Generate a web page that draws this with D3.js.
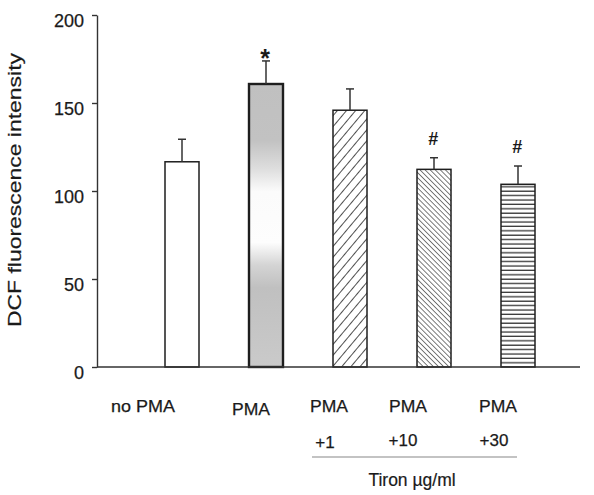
<!DOCTYPE html>
<html>
<head>
<meta charset="utf-8">
<script src="https://cdn.jsdelivr.net/npm/d3@7"></script>
<style>
  html, body { margin: 0; padding: 0; background: #fff; }
  svg { display: block; font-family: "Liberation Sans", Arial, Helvetica, sans-serif; }
</style>
</head>
<body>
<svg id="chart" width="594" height="495"></svg>
<script>
// ---- data ----
const categories = ["no PMA", "PMA", "PMA+1", "PMA+10", "PMA+30"];
const labelLine1 = ["no PMA", "PMA", "PMA", "PMA", "PMA"];
const labelLine2 = ["", "", "+1", "+10", "+30"];
const values = [116.6, 160.8, 145.9, 112.3, 103.8];
const errors = [12.8, 13.1, 12.1, 6.6, 10.4];
const marks = ["", "*", "", "#", "#"];
const yTicks = [0, 50, 100, 150, 200];
const yTitle = "DCF fluorescence intensity";
const groupTitle = "Tiron \u00b5g/ml";

// ---- layout ----
const svg = d3.select("#chart");
const axisX = 97;
const y = d3.scaleLinear().domain([0, 200]).range([367, 15]);
const x = d3.scalePoint().domain(categories).range([182, 518]);
const barW = 34;
const ink = "#1a1a1a";

// ---- patterns / gradient ----
const defs = svg.append("defs");
const grad = defs.append("linearGradient").attr("id", "pmaGrad")
  .attr("x1", 0).attr("y1", 0).attr("x2", 0).attr("y2", 1);
[[0, "#c0c0c0"], [0.2, "#c2c2c2"], [0.3, "#dedede"], [0.38, "#fbfbfb"],
 [0.56, "#fdfdfd"], [0.64, "#d4d4d4"], [0.72, "#c0c0c0"], [1, "#cacaca"]]
  .forEach(([o, c]) => grad.append("stop").attr("offset", o).attr("stop-color", c));

const p1 = defs.append("pattern").attr("id", "hatch1").attr("patternUnits", "userSpaceOnUse")
  .attr("width", 7).attr("height", 7).attr("patternTransform", "rotate(40)");
p1.append("rect").attr("width", 7).attr("height", 7).attr("fill", "#fff");
p1.append("line").attr("x1", 0).attr("y1", 0).attr("x2", 0).attr("y2", 7)
  .attr("stroke", "#222").attr("stroke-width", 1.6);

const p2 = defs.append("pattern").attr("id", "hatch2").attr("patternUnits", "userSpaceOnUse")
  .attr("width", 3.6).attr("height", 3.6).attr("patternTransform", "rotate(-45)");
p2.append("rect").attr("width", 3.6).attr("height", 3.6).attr("fill", "#fff");
p2.append("line").attr("x1", 0).attr("y1", 0).attr("x2", 0).attr("y2", 3.6)
  .attr("stroke", "#222").attr("stroke-width", 1.2);

const p3 = defs.append("pattern").attr("id", "hatch3").attr("patternUnits", "userSpaceOnUse")
  .attr("width", 8).attr("height", 4.4);
p3.append("rect").attr("width", 8).attr("height", 4.4).attr("fill", "#fff");
p3.append("line").attr("x1", 0).attr("y1", 2).attr("x2", 8).attr("y2", 2)
  .attr("stroke", "#333").attr("stroke-width", 1.3);

const fills = ["#ffffff", "url(#pmaGrad)", "url(#hatch1)", "url(#hatch2)", "url(#hatch3)"];
const strokeW = [1.5, 2.4, 1.5, 1.5, 1.5];

// ---- y axis ----
const yAxis = d3.axisLeft(y).tickValues(yTicks).tickSize(5).tickPadding(8).tickSizeOuter(0);
const gy = svg.append("g").attr("transform", `translate(${axisX},0)`).call(yAxis);
gy.select(".domain").attr("stroke", "#333").attr("stroke-width", 1.4);
gy.selectAll(".tick line").attr("stroke", "#333").attr("stroke-width", 1.4);
gy.selectAll(".tick text").attr("font-size", 18).attr("fill", ink)
  .attr("font-family", "'Liberation Sans', Arial, sans-serif")
  .attr("stroke", ink).attr("stroke-width", 0.25)
  .attr("dy", "0.62em");

// y title
svg.append("text")
  .attr("transform", `translate(21,190) rotate(-90)`)
  .attr("text-anchor", "middle")
  .attr("font-size", 19)
  .attr("fill", ink).attr("stroke", ink).attr("stroke-width", 0.2)
  .attr("textLength", 274).attr("lengthAdjust", "spacingAndGlyphs")
  .text(yTitle);

// ---- bars ----
const bars = svg.append("g");
bars.selectAll("rect").data(categories).join("rect")
  .attr("x", d => x(d) - barW / 2)
  .attr("y", (d, i) => y(values[i]))
  .attr("width", barW)
  .attr("height", (d, i) => y(0) - y(values[i]))
  .attr("fill", (d, i) => fills[i])
  .attr("stroke", "#1e1e1e")
  .attr("stroke-width", (d, i) => strokeW[i]);

// error bars
const eb = svg.append("g").attr("stroke", "#333").attr("stroke-width", 1.5);
categories.forEach((c, i) => {
  eb.append("line").attr("x1", x(c)).attr("x2", x(c))
    .attr("y1", y(values[i])).attr("y2", y(values[i] + errors[i]));
  eb.append("line").attr("x1", x(c) - 4).attr("x2", x(c) + 4)
    .attr("y1", y(values[i] + errors[i])).attr("y2", y(values[i] + errors[i]));
});

// significance marks
categories.forEach((c, i) => {
  if (!marks[i]) return;
  const top = y(values[i] + errors[i]);
  if (marks[i] === "*") {
    svg.append("text").attr("x", x(c) - 1).attr("y", top + 6)
      .attr("text-anchor", "middle").attr("font-size", 25).attr("font-weight", "bold")
      .attr("fill", ink).text("*");
  } else {
    svg.append("text").attr("x", x(c) - 1).attr("y", top - 13)
      .attr("text-anchor", "middle").attr("font-size", 18).attr("font-weight", "bold")
      .attr("font-style", "italic").attr("fill", ink).text("#");
  }
});

// baseline
svg.append("line").attr("x1", axisX).attr("x2", 580)
  .attr("y1", y(0)).attr("y2", y(0))
  .attr("stroke", "#333").attr("stroke-width", 1.5);

// ---- x labels ----
const labelOffsets = [-39, -15, -21, -26, -20];
const line2Offsets = [0, 0, -25, -31, -24];
categories.forEach((c, i) => {
  svg.append("text").attr("x", x(c) + labelOffsets[i]).attr("y", i === 1 ? 415 : 412)
    .attr("text-anchor", "middle").attr("font-size", 17).attr("fill", ink)
    .attr("stroke", ink).attr("stroke-width", 0.25)
    .attr("textLength", i === 0 ? 64 : 38).attr("lengthAdjust", "spacingAndGlyphs")
    .text(labelLine1[i]);
  if (labelLine2[i]) {
    svg.append("text").attr("x", x(c) + line2Offsets[i]).attr("y", i === 2 ? 448 : 446)
      .attr("text-anchor", "middle").attr("font-size", 17).attr("fill", ink)
      .attr("stroke", ink).attr("stroke-width", 0.25)
      .text(labelLine2[i]);
  }
});

// group line and title
svg.append("line").attr("x1", 312).attr("x2", 517).attr("y1", 457).attr("y2", 457)
  .attr("stroke", "#888").attr("stroke-width", 1.2);
svg.append("text").attr("x", 412).attr("y", 486)
  .attr("text-anchor", "middle").attr("font-size", 17.5).attr("fill", ink)
  .attr("stroke", ink).attr("stroke-width", 0.2)
  .text(groupTitle);
</script>
</body>
</html>
